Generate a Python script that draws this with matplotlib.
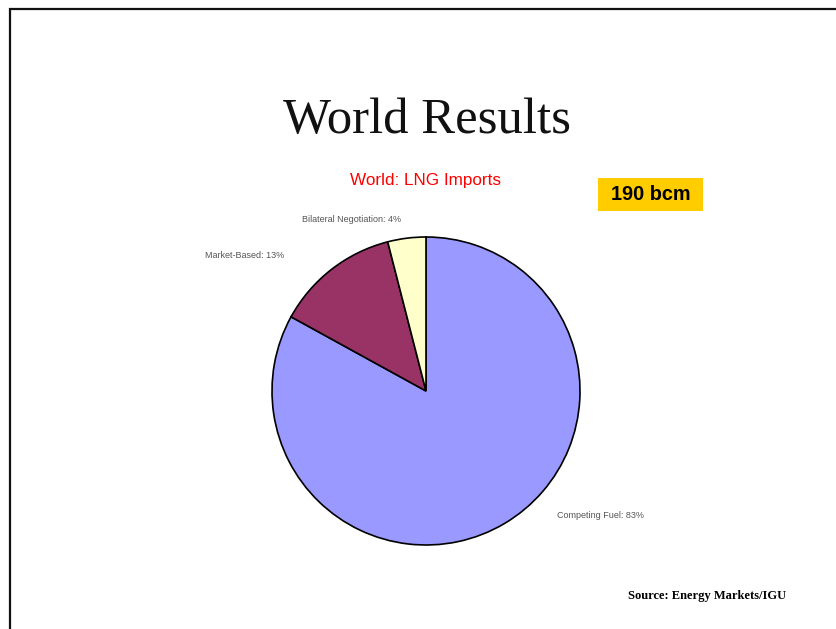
import matplotlib.pyplot as plt
from matplotlib.patches import Rectangle

# LNG import pricing shares, world total
categories = ['Competing Fuel', 'Market-Based', 'Bilateral Negotiation']
shares = [83, 13, 4]
colors = ['#9999FF', '#993366', '#FFFFCC']
total_label = '190 bcm'

W, H = 836, 629
fig = plt.figure(figsize=(W / 100, H / 100), dpi=100)
ax = fig.add_axes([0, 0, 1, 1])
ax.set_xlim(0, W)
ax.set_ylim(0, H)
ax.set_aspect('equal')
ax.axis('off')

# slide frame
ax.add_patch(Rectangle((9.5, -20), W + 40, H - 8.5 + 20, fill=False,
                       edgecolor='#111111', linewidth=1.6))

ax.text(427, H - 121, 'World Results', ha='center', va='center',
        fontsize=36.5, family='Liberation Serif', color='#111111')
ax.text(426, H - 180, 'World: LNG Imports', ha='center', va='center',
        fontsize=12.3, family='Liberation Sans', color='#FF0000')

# total volume badge
ax.add_patch(Rectangle((598, H - 211), 105, 33, facecolor='#FFCC00', edgecolor='none'))
ax.text(650.5, H - 194.5, total_label, ha='center', va='center', fontsize=14.3,
        fontweight='bold', family='Liberation Sans', color='black')

labels = [f'{c}: {s}%' for c, s in zip(categories, shares)]
wedges, texts = ax.pie(shares, colors=colors, labels=labels, startangle=90,
                       counterclock=False, center=(426, H - 391), radius=154,
                       wedgeprops=dict(edgecolor='black', linewidth=1.2),
                       textprops=dict(fontsize=6.5, color='#555555',
                                      family='Liberation Sans'))
ax.set_xlim(0, W)
ax.set_ylim(0, H)

label_pos = [(557, H - 515), (205, H - 255), (302, H - 219)]
for t, (x, y) in zip(texts, label_pos):
    t.set_position((x, y))
    t.set_ha('left')
    t.set_va('center')

ax.text(628, H - 596, 'Source: Energy Markets/IGU', ha='left', va='center',
        fontsize=9, fontweight='bold', family='Liberation Serif', color='black')

fig.savefig('out.png', dpi=100)
